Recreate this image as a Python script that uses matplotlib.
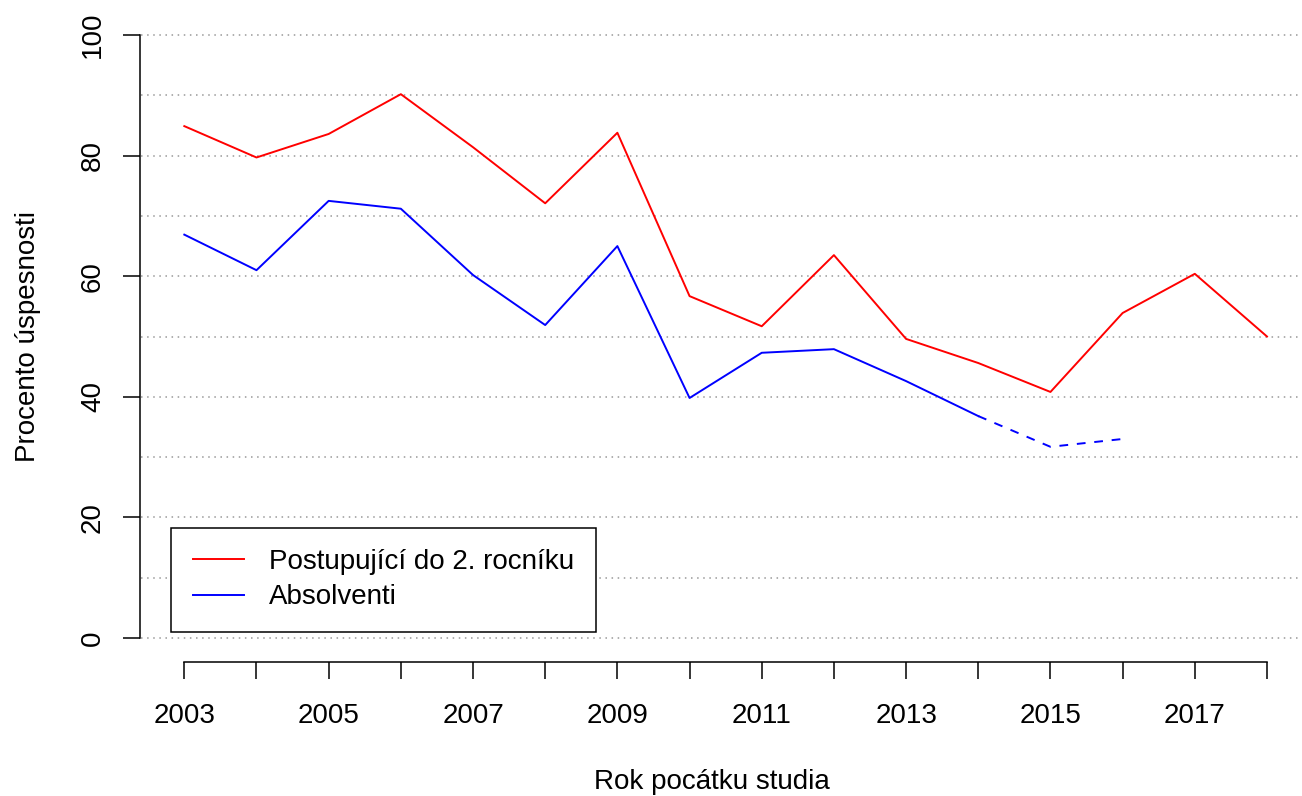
import matplotlib
matplotlib.use("Agg")
import matplotlib.pyplot as plt

years = list(range(2003, 2019))
postupujici = [84.9, 79.7, 83.6, 90.2, 81.4, 72.1, 83.8, 56.7, 51.7, 63.5,
               49.6, 45.6, 40.8, 53.9, 60.4, 50.0]
absolventi_years = list(range(2003, 2017))
absolventi = [66.9, 61.0, 72.5, 71.2, 60.2, 51.9, 65.0, 39.8, 47.3, 47.9,
              42.6, 36.8, 31.7, 33.0]
dashed_from = 2014  # posledni roky jeste nejsou uzavrene

plt.rcParams["font.family"] = ["Liberation Sans", "DejaVu Sans"]
plt.rcParams["font.size"] = 20

W, H = 1302, 796
fig = plt.figure(figsize=(W / 100, H / 100), dpi=100)
ax = fig.add_axes([141 / W, 1 - 662 / H, 1 - 141 / W, (662 - 11) / H])

ax.set_ylim(-4, 104)
ax.set_xlim(2002.4, 2018.485)

for y in range(0, 101, 10):
    ax.axhline(y, color="#999999", lw=1.1, ls=(0, (1, 3)), zorder=1)

ax.plot(years, postupujici, color="red", lw=1.4, label="Postupující do 2. rocníku", zorder=3)

k = absolventi_years.index(dashed_from)
ax.plot(absolventi_years[:k + 1], absolventi[:k + 1], color="blue", lw=1.4,
        label="Absolventi", zorder=3)
ax.plot(absolventi_years[k:], absolventi[k:], color="blue", lw=1.4,
        ls=(0, (4.5, 4.5)), zorder=3)

for s in ["top", "right"]:
    ax.spines[s].set_visible(False)
ax.spines["left"].set_bounds(0, 100)
ax.spines["bottom"].set_bounds(2003, 2018)
ax.spines["left"].set_position(("outward", 1))
ax.spines["left"].set_linewidth(1.1)
ax.spines["bottom"].set_linewidth(1.1)

ax.set_yticks(range(0, 101, 20))
ax.set_xticks(years)
ax.set_xticklabels([str(y) if (y - 2003) % 2 == 0 else "" for y in years])
ax.tick_params(axis="both", direction="out", length=12.2, width=1.1, labelsize=20)
ax.tick_params(axis="x", pad=17)
ax.tick_params(axis="y", pad=12)
for lab in ax.get_yticklabels():
    lab.set_rotation(90)
    lab.set_va("center")

fig.text(712 / W, 1 - 782 / H, "Rok pocátku studia", ha="center", va="center", fontsize=20)
fig.text(28 / W, 1 - 336 / H, "Procento úspesnosti", ha="center", va="center",
         rotation=90, fontsize=20)

handles, labels = ax.get_legend_handles_labels()
leg = fig.legend(handles, labels, loc="lower left",
                 bbox_to_anchor=(171 / W, 1 - 632 / H), bbox_transform=fig.transFigure,
                 fancybox=False, framealpha=1, edgecolor="black", fontsize=20,
                 handlelength=1.85, handletextpad=0.9, labelspacing=0.33,
                 borderpad=0.78, borderaxespad=0)
leg.get_frame().set_linewidth(1.1)

fig.savefig("out.png", dpi=100)
